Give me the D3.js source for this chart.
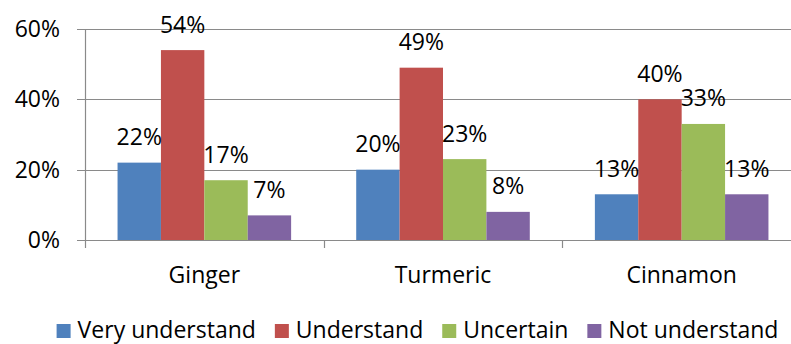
<!DOCTYPE html>
<html>
<head>
<meta charset="utf-8">
<script src="https://cdn.jsdelivr.net/npm/d3@7"></script>
<style>
  html, body { margin: 0; padding: 0; background: #ffffff; }
  svg { display: block; }
  text { font-family: "Open Sans", "Noto Sans", sans-serif; fill: #000; }
</style>
</head>
<body>
<svg id="chart" width="791" height="344"></svg>
<script>
// Spice awareness survey: share of respondents per level of understanding
const categories = ["Ginger", "Turmeric", "Cinnamon"];
const seriesNames = ["Very understand", "Understand", "Uncertain", "Not understand"];
const veryUnderstand = [22, 20, 13];
const understand = [54, 49, 40];
const uncertain = [17, 23, 33];
const notUnderstand = [7, 8, 13];
const yTicks = [0, 20, 40, 60];
const colors = ["#4F81BD", "#C0504D", "#9BBB59", "#8064A2"];

const seriesValues = [veryUnderstand, understand, uncertain, notUnderstand];

const svg = d3.select("#chart");
const plot = { left: 85, right: 801, top: 29, bottom: 240 };
const fontSize = 23;

const x0 = d3.scaleBand()
  .domain(categories)
  .range([plot.left, plot.right])
  .paddingInner(0)
  .paddingOuter(0);

const x1 = d3.scaleBand()
  .domain(seriesNames)
  .range([0, x0.bandwidth()])
  .paddingInner(0)
  .paddingOuter(0.75);

const y = d3.scaleLinear()
  .domain([0, 60])
  .range([plot.bottom, plot.top]);

const gridColor = "#8a8a8a";

// horizontal gridlines with small outer ticks
svg.append("g")
  .selectAll("line")
  .data(yTicks)
  .join("line")
  .attr("x1", plot.left - 8)
  .attr("x2", plot.right)
  .attr("y1", d => Math.round(y(d)) + 0.5)
  .attr("y2", d => Math.round(y(d)) + 0.5)
  .attr("stroke", gridColor)
  .attr("stroke-width", 1.2);

// y tick labels
svg.append("g")
  .selectAll("text")
  .data(yTicks)
  .join("text")
  .attr("x", 60)
  .attr("y", d => y(d) + 8)
  .attr("text-anchor", "end")
  .style("font-size", fontSize + "px")
  .text(d => d3.format(".0%")(d / 100));

// bars
const cells = (c, ci) => seriesNames.map((s, si) => ({ s, si, v: seriesValues[si][ci] }));

const groups = svg.append("g")
  .selectAll("g")
  .data(categories)
  .join("g")
  .attr("transform", c => `translate(${x0(c)},0)`);

groups.selectAll("rect")
  .data(cells)
  .join("rect")
  .attr("x", d => x1(d.s))
  .attr("width", x1.bandwidth())
  .attr("y", d => y(d.v))
  .attr("height", d => y(0) - y(d.v))
  .attr("fill", d => colors[d.si]);

// value labels above the bars
groups.selectAll("text")
  .data(cells)
  .join("text")
  .attr("x", d => x1(d.s) + x1.bandwidth() / 2)
  .attr("y", d => y(d.v) - 17.5)
  .attr("text-anchor", "middle")
  .style("font-size", fontSize + "px")
  .text(d => d.v + "%");

// y axis line and category separator ticks
svg.append("line")
  .attr("x1", plot.left + 0.5).attr("x2", plot.left + 0.5)
  .attr("y1", plot.top).attr("y2", plot.bottom + 8)
  .attr("stroke", gridColor).attr("stroke-width", 1.2);

svg.append("g")
  .selectAll("line")
  .data(categories.slice(1))
  .join("line")
  .attr("x1", c => Math.round(x0(c)) + 0.5)
  .attr("x2", c => Math.round(x0(c)) + 0.5)
  .attr("y1", plot.bottom)
  .attr("y2", plot.bottom + 8)
  .attr("stroke", gridColor)
  .attr("stroke-width", 1.2);

// category labels
svg.append("g")
  .selectAll("text")
  .data(categories)
  .join("text")
  .attr("x", c => x0(c) + x0.bandwidth() / 2)
  .attr("y", 283)
  .attr("text-anchor", "middle")
  .style("font-size", fontSize + "px")
  .text(c => c);

// legend
const legend = svg.append("g");
const swatch = 14, swGap = 7, itemGap = 19;
const items = legend.selectAll("g")
  .data(seriesNames)
  .join("g");
items.append("rect")
  .attr("width", swatch)
  .attr("height", swatch)
  .attr("y", 324)
  .attr("fill", (d, i) => colors[i]);
items.append("text")
  .attr("x", swatch + swGap)
  .attr("y", 338)
  .style("font-size", fontSize + "px")
  .text(d => d);

let widths = [];
items.each(function () {
  widths.push(swatch + swGap + d3.select(this).select("text").node().getComputedTextLength());
});
const total = d3.sum(widths) + itemGap * (widths.length - 1);
let cx = 417.5 - total / 2;
items.attr("transform", (d, i) => {
  const t = `translate(${cx},0)`;
  cx += widths[i] + itemGap;
  return t;
});
</script>
</body>
</html>
